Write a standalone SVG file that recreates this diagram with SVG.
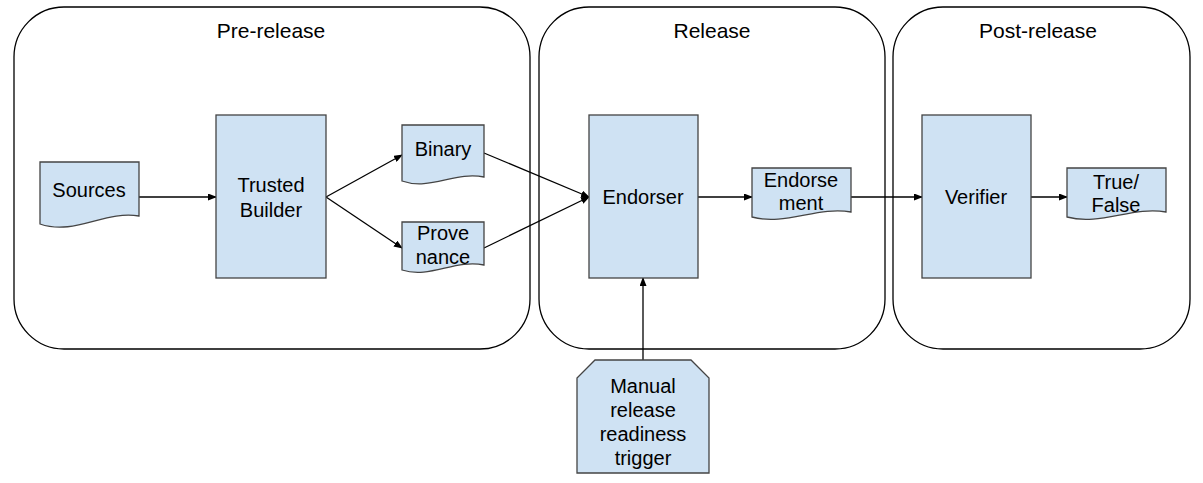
<svg xmlns="http://www.w3.org/2000/svg" width="1203" height="483" viewBox="0 0 1203 483">
<style>
text{font-family:"Liberation Sans",Arial,sans-serif;font-size:20px;fill:#000;text-anchor:middle}
.t{font-size:21px}
.grp{fill:#fff;stroke:#000;stroke-width:1.3}
.nd{fill:#cfe2f3;stroke:#444;stroke-width:1.3}
.cn{fill:none;stroke:#000;stroke-width:1.3;marker-end:url(#ah)}
</style>
<defs>
<marker id="ah" markerWidth="9" markerHeight="7" refX="8" refY="3.5" orient="auto" markerUnits="userSpaceOnUse">
<path d="M0,0 L9,3.5 L0,7 Z" fill="#000"/>
</marker>
</defs>
<g id="pre-release">
<rect class="grp" x="14" y="7" width="516" height="342" rx="50" ry="50"/>
<text class="t" x="271" y="38">Pre-release</text>
</g>
<g id="release">
<rect class="grp" x="539" y="7" width="346" height="342" rx="50" ry="50"/>
<text class="t" x="712" y="38">Release</text>
</g>
<g id="post-release">
<rect class="grp" x="893" y="7" width="297" height="342" rx="50" ry="50"/>
<text class="t" x="1038" y="38">Post-release</text>
</g>
<g id="connectors">
<path class="cn" d="M139,197 H216"/>
<path class="cn" d="M326,197 L402,155"/>
<path class="cn" d="M326,197 L402,248"/>
<path class="cn" d="M484,153 L589,197"/>
<path class="cn" d="M484,248 L589,197"/>
<path class="cn" d="M698,197 H752"/>
<path class="cn" d="M851,197 H922"/>
<path class="cn" d="M1031,197 H1067"/>
<path class="cn" d="M643,360 V278"/>
</g>
<g id="sources">
<path class="nd" d="M40,162 H139 V216 C105,210 75,236 40,224 Z"/>
<text x="89" y="197">Sources</text>
</g>
<g id="trusted-builder">
<rect class="nd" x="216" y="115" width="110" height="163"/>
<text x="271" y="192">Trusted</text>
<text x="271" y="217">Builder</text>
</g>
<g id="binary">
<path class="nd" d="M402,125 H484 V177 C455,171 430,191 402,181 Z"/>
<text x="443" y="156">Binary</text>
</g>
<g id="provenance">
<path class="nd" d="M402,222 H484 V265 C455,259 430,279 402,270 Z"/>
<text x="443" y="240">Prove</text>
<text x="443" y="264">nance</text>
</g>
<g id="endorser">
<rect class="nd" x="589" y="115" width="109" height="163"/>
<text x="643" y="204">Endorser</text>
</g>
<g id="endorsement">
<path class="nd" d="M752,168 H851 V212 C818,206 785,226 752,217 Z"/>
<text x="801" y="187">Endorse</text>
<text x="801" y="210">ment</text>
</g>
<g id="verifier">
<rect class="nd" x="922" y="115" width="109" height="163"/>
<text x="976" y="204">Verifier</text>
</g>
<g id="true-false">
<path class="nd" d="M1067,168 H1166 V212 C1133,206 1100,226 1067,217 Z"/>
<text x="1116" y="189">True/</text>
<text x="1116" y="212">False</text>
</g>
<g id="manual-trigger">
<path class="nd" d="M595,360 H691 L709,378 V473 H577 V378 Z"/>
<text x="643" y="393">Manual</text>
<text x="643" y="417">release</text>
<text x="643" y="441">readiness</text>
<text x="643" y="465">trigger</text>
</g>
</svg>
